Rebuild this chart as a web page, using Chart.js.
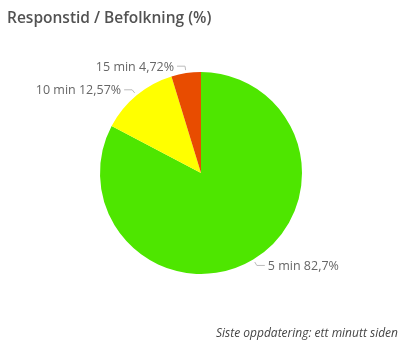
<!DOCTYPE html>
<html>
<head>
<meta charset="utf-8">
<script src="https://cdn.jsdelivr.net/npm/chart.js@4/dist/chart.umd.min.js"></script>
<style>
  html, body { margin: 0; padding: 0; background: #fff; }
  #wrap { position: relative; width: 401px; height: 343px; overflow: hidden; }
  #title { position: absolute; left: 7px; top: 6px; font: 600 15.5px "Open Sans", sans-serif; color: #525252; }
  #footer { position: absolute; right: 3px; top: 324px; font: italic 12px "Open Sans", sans-serif; color: #444; }
  #chart { position: absolute; left: 0; top: 0; }
</style>
</head>
<body>
<div id="wrap">
  <canvas id="chart" width="401" height="343"></canvas>
  <div id="title">Responstid / Befolkning (%)</div>
  <div id="footer">Siste oppdatering: ett minutt siden</div>
</div>
<script>
const categories = ['5 min', '10 min', '15 min'];
const values = [82.7, 12.57, 4.72];
const valueLabels = ['82,7%', '12,57%', '4,72%'];
const colors = ['#4ee600', '#ffff00', '#e84c00'];

// draws "category value" outside each slice with a small leader line
const outsideLabels = {
  id: 'outsideLabels',
  afterDatasetsDraw(chart) {
    const ctx = chart.ctx;
    const meta = chart.getDatasetMeta(0);
    ctx.save();
    ctx.font = '12.5px "Open Sans", sans-serif';
    ctx.textBaseline = 'middle';
    meta.data.forEach((arc, i) => {
      const mid = (arc.startAngle + arc.endAngle) / 2;
      const cx = arc.x, cy = arc.y, r = arc.outerRadius;
      const dx = Math.cos(mid), dy = Math.sin(mid);
      const x1 = cx + dx * (r + 3), y1 = cy + dy * (r + 3);
      const x2 = cx + dx * (r + 7), y2 = cy + dy * (r + 7);
      const right = dx >= 0;
      const x3 = x2 + (right ? 8 : -8);
      ctx.strokeStyle = '#bbb';
      ctx.lineWidth = 1;
      ctx.beginPath();
      ctx.moveTo(x1, y1);
      ctx.lineTo(x2, y2);
      ctx.lineTo(x3, y2);
      ctx.stroke();
      ctx.fillStyle = '#666';
      ctx.textAlign = right ? 'left' : 'right';
      ctx.fillText(categories[i] + ' ' + valueLabels[i], x3 + (right ? 3 : -3), y2 + 1);
    });
    ctx.restore();
  }
};

new Chart(document.getElementById('chart'), {
  type: 'pie',
  data: {
    labels: categories,
    datasets: [{
      data: values,
      backgroundColor: colors,
      borderWidth: 0
    }]
  },
  options: {
    responsive: false,
    animation: false,
    layout: { padding: { left: 100, right: 99, top: 72, bottom: 69 } },
    plugins: {
      legend: { display: false },
      tooltip: { enabled: false }
    }
  },
  plugins: [outsideLabels]
});
</script>
</body>
</html>
